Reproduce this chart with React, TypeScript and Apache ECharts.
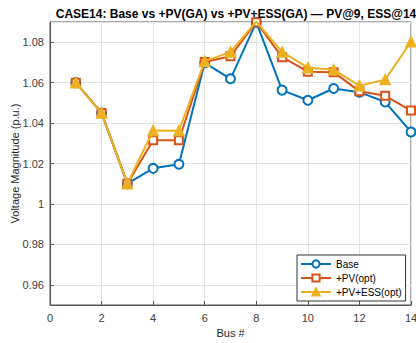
import React, { useEffect, useRef } from "react";
import * as echarts from "echarts";

const buses = [1, 2, 3, 4, 5, 6, 7, 8, 9, 10, 11, 12, 13, 14];
const baseV = [1.06, 1.045, 1.01, 1.0176, 1.0196, 1.0698, 1.0619, 1.0899, 1.0563, 1.0513, 1.0571, 1.0553, 1.0504, 1.0356];
const pvV = [1.06, 1.045, 1.01, 1.0315, 1.0315, 1.0702, 1.0731, 1.0899, 1.0726, 1.0654, 1.0652, 1.0557, 1.0535, 1.0462];
const essV = [1.06, 1.045, 1.01, 1.0363, 1.0362, 1.0705, 1.0752, 1.0902, 1.0752, 1.0674, 1.0664, 1.0585, 1.0615, 1.0802];
const seriesNames = ["Base", "+PV(opt)", "+PV+ESS(opt)"];
const colors = ["#0072BD", "#D95319", "#EDB120"];
const titleText = "CASE14: Base vs +PV(GA) vs +PV+ESS(GA) \u2014 PV@9, ESS@14";

const FONT = "'Liberation Sans', Arial, Helvetica, sans-serif";

export default function App() {
  const ref = useRef<HTMLDivElement>(null);
  useEffect(() => {
    if (!ref.current) return;
    const chart = echarts.init(ref.current, undefined, { renderer: "svg" });
    const mk = (vals: number[]) => buses.map((b, i) => [b, vals[i]]);
    const symbols = ["emptyCircle", "emptyRect", "triangle"];
    const sizes = [9, 8, 10];
    const data = [baseV, pvV, essV];
    chart.setOption({
      animation: false,
      backgroundColor: "#ffffff",
      textStyle: { fontFamily: FONT },
      title: {
        text: titleText,
        left: 231,
        textAlign: "center",
        top: 3,
        textStyle: { fontSize: 12, fontWeight: "bold", color: "#000", fontFamily: FONT },
      },
      grid: {
        left: 50,
        right: 5,
        top: 22,
        bottom: 38,
        outerBoundsMode: "none",
        containLabel: false,
        show: true,
        borderColor: "#555",
        borderWidth: 1,
        backgroundColor: "#fff",
      },
      legend: {
        orient: "vertical",
        left: 297,
        top: 255,
        padding: [4, 4, 4, 3],
        itemGap: 4,
        itemWidth: 30,
        itemHeight: 9,
        backgroundColor: "#fff",
        borderColor: "#333",
        borderWidth: 1,
        borderRadius: 0,
        textStyle: { fontSize: 10, color: "#000", fontFamily: FONT },
        data: seriesNames,
      },
      xAxis: {
        type: "value",
        min: 0,
        max: 14,
        interval: 2,
        name: "Bus #",
        nameLocation: "middle",
        nameGap: 22,
        nameMoveOverlap: false,
        nameTextStyle: { fontSize: 11, color: "#262626", fontFamily: FONT },
        axisLine: { lineStyle: { color: "#555" } },
        axisTick: { inside: true, length: 4, lineStyle: { color: "#555" } },
        axisLabel: { fontSize: 11, color: "#404040", margin: 7, fontFamily: FONT },
        splitLine: { show: true, lineStyle: { color: "#e3e3e3" } },
      },
      yAxis: {
        type: "value",
        min: 0.95,
        max: 1.09,
        splitNumber: 7,
        name: "Voltage Magnitude (p.u.)",
        nameLocation: "middle",
        nameGap: 30,
        nameMoveOverlap: false,
        nameTextStyle: { fontSize: 11, color: "#262626", fontFamily: FONT },
        axisLine: { show: true, lineStyle: { color: "#555" } },
        axisTick: { show: true, inside: true, length: 4, lineStyle: { color: "#555" } },
        axisLabel: {
          fontSize: 11,
          color: "#404040",
          margin: 6,
          fontFamily: FONT,
          showMinLabel: false,
          showMaxLabel: false,
          formatter: (v: number) => {
            const r = Math.round(v * 100) / 100;
            if (Math.abs(r - v) > 1e-6) return "";
            return String(r);
          },
        },
        splitLine: { show: true, lineStyle: { color: "#e3e3e3" } },
      },
      series: seriesNames.map((name, k) => ({
        name,
        type: "line",
        data: mk(data[k]),
        symbol: symbols[k],
        symbolSize: sizes[k],
        showAllSymbol: true,
        color: colors[k],
        lineStyle: { width: 2, color: colors[k] },
        itemStyle: { color: colors[k], borderColor: colors[k], borderWidth: 1.5 },
        z: 2 + k,
      })),
    });
    return () => chart.dispose();
  }, []);
  return (
    <div
      ref={ref}
      style={{ position: "fixed", left: 0, top: 0, width: 416, height: 343 }}
    />
  );
}
